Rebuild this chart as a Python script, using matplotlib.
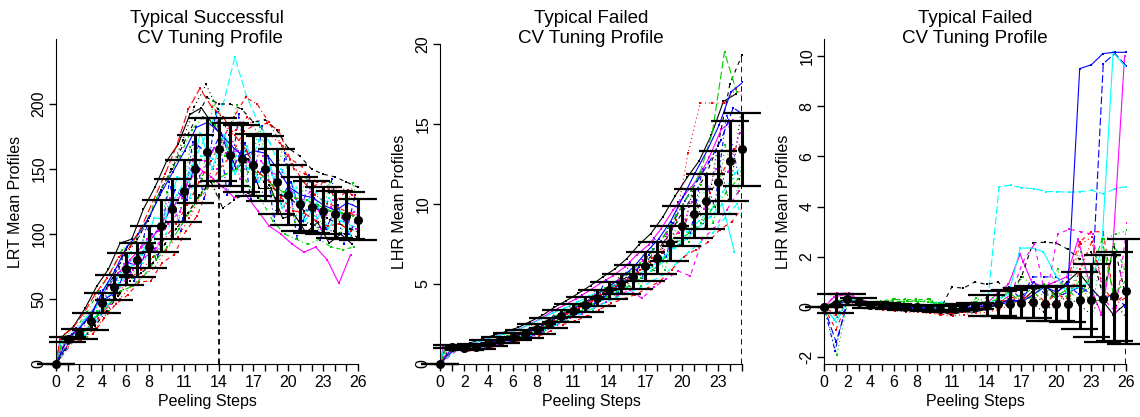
import numpy as np
import matplotlib
matplotlib.use("Agg")
import matplotlib.pyplot as plt

plt.rcParams['font.family'] = ['Liberation Sans', 'DejaVu Sans']
plt.rcParams['lines.scale_dashes'] = False

# R palette 1:6 and line types 1:5, recycled over the replicates
rep_colors = ['#000000', '#FF0000', '#00CD00', '#0000FF', '#00FFFF', '#FF00FF']
rep_ltys = ['-', (0, (3, 3)), (0, (0.8, 2.2)), (0, (0.8, 2.2, 3, 2.2)), (0, (5.5, 2.2))]
rep_shift = [-0.3, 0.1, 0.35, -0.15, 0.25, -0.4, 0.0, 0.3, -0.2, 0.15,
             -0.35, 0.4, -0.05, 0.2, -0.25, 0.05, 0.32, -0.1, 0.22, -0.38]

# --- successful LRT profile, steps 0..26 ---
lrt_steps = list(range(27))
lrt_mean = [0, 19, 23, 33, 47, 59, 73, 80, 90, 106, 119, 133, 150, 163, 165, 161, 158,
            153, 150, 140, 130, 123, 121, 118, 115, 114, 111]
lrt_sd = [0, 2, 4, 6.5, 7.5, 9.5, 12, 13, 16, 20, 23, 24, 26, 26, 24, 24, 26, 24, 25,
          25, 23, 21, 20, 18, 18, 18, 16]
lrt_reps = [
    [0, 21, 29, 43, 60, 73, 93, 96, 119, 136, 156, 169, 192, 197, 184, 173, 150, 158, 135, 135, 112, 115, 101, 109, 93, 100, 92],
    [0, 17, 18, 23, 35, 46, 53, 63, 64, 78, 84, 102, 114, 137, 151, 161, 179, 184, 185, 180, 158, 152, 137, 140, 126, 134, 124],
    [0, 21, 20, 41, 41, 71, 66, 98, 82, 132, 110, 167, 142, 202, 160, 199, 148, 182, 130, 168, 109, 144, 101, 140, 101, 139, 101],
    [0, 17, 28, 26, 56, 49, 85, 64, 106, 82, 140, 102, 171, 127, 194, 130, 192, 127, 183, 110, 162, 96, 145, 95, 142, 92, 130],
    [0, 20, 25, 36, 51, 62, 79, 86, 98, 116, 130, 146, 166, 186, 200, 236, 206, 186, 170, 150, 136, 124, 132, 118, 114, 104, 110],
    [0, 19, 22, 32, 44, 58, 70, 80, 90, 98, 112, 124, 140, 150, 144, 136, 128, 130, 118, 106, 100, 92, 86, 90, 80, 62, 84],
    [0, 20, 26, 38, 54, 68, 88, 96, 112, 134, 150, 170, 188, 205, 200, 200, 196, 186, 188, 180, 166, 160, 150, 146, 144, 140, 136],
    [0, 18, 20, 28, 40, 50, 60, 68, 74, 88, 98, 112, 130, 150, 170, 180, 190, 176, 176, 168, 150, 146, 140, 134, 136, 130, 128],
    [0, 21, 27, 40, 56, 70, 88, 94, 108, 128, 144, 160, 180, 190, 184, 170, 152, 136, 126, 110, 100, 96, 92, 96, 90, 88, 90],
    [0, 19, 24, 30, 50, 56, 78, 74, 100, 104, 134, 126, 168, 160, 178, 150, 170, 140, 160, 126, 140, 110, 128, 104, 122, 100, 118],
    [0, 18, 21, 34, 44, 62, 68, 86, 84, 112, 112, 144, 140, 178, 150, 176, 146, 168, 140, 152, 120, 132, 110, 124, 104, 118, 98],
    [0, 19, 23, 35, 46, 61, 72, 82, 89, 108, 117, 136, 148, 166, 162, 164, 155, 156, 147, 143, 127, 126, 118, 121, 112, 117, 108],
    [0, 20, 26, 37, 52, 66, 84, 94, 110, 130, 150, 172, 198, 215, 196, 176, 160, 150, 140, 128, 118, 110, 108, 104, 102, 100, 98],
    [0, 18, 21, 30, 43, 54, 66, 72, 82, 96, 108, 122, 140, 156, 172, 190, 205, 200, 186, 170, 154, 140, 130, 124, 120, 116, 112],
    [0, 17, 19, 26, 38, 46, 56, 60, 68, 80, 90, 104, 118, 132, 140, 146, 150, 150, 146, 138, 132, 128, 126, 122, 118, 116, 114],
    [0, 21, 28, 39, 57, 72, 90, 100, 114, 132, 148, 164, 182, 186, 178, 168, 160, 164, 162, 150, 136, 130, 128, 122, 118, 124, 120],
    [0, 19, 22, 34, 46, 60, 76, 78, 94, 100, 126, 128, 160, 158, 176, 160, 150, 172, 150, 130, 140, 118, 112, 128, 110, 106, 122],
    [0, 20, 25, 32, 50, 57, 77, 77, 96, 102, 128, 128, 158, 156, 150, 184, 142, 162, 160, 140, 118, 124, 132, 104, 126, 110, 104],
    [0, 18, 20, 29, 41, 52, 64, 70, 78, 92, 104, 116, 130, 140, 120, 126, 132, 128, 138, 130, 126, 118, 120, 112, 108, 104, 100],
    [0, 21, 27, 39, 54, 66, 82, 90, 106, 126, 146, 168, 196, 212, 198, 190, 176, 164, 148, 140, 128, 118, 116, 110, 106, 108, 102],
]

# --- failed LHR profile, steps 0..25 ---
lhr_steps = list(range(26))
lhr_mean = [0, 1.08, 0.98, 1.08, 1.3, 1.5, 1.7, 1.9, 2.2, 2.55, 3.0, 3.33, 3.7, 4.15, 4.6,
            5.0, 5.45, 6.1, 6.65, 7.55, 8.6, 9.4, 10.15, 11.35, 12.65, 13.4]
lhr_sd = [0, 0.08, 0.12, 0.15, 0.18, 0.2, 0.22, 0.25, 0.3, 0.32, 0.36, 0.42, 0.48, 0.5,
          0.55, 0.62, 0.75, 0.9, 1.0, 1.1, 1.25, 1.5, 1.7, 1.95, 2.5, 2.3]
lhr_reps = [
    [0, 1.2, 1.16, 1.3, 1.57, 1.8, 2.03, 2.28, 2.65, 3.03, 3.54, 3.96, 4.42, 4.9, 5.43, 5.93, 6.58, 7.45, 8.15, 9.2, 10.5, 11.65, 12.7, 14.3, 16.4, 16.85],
    [0, 0.96, 0.8, 0.86, 1.03, 1.2, 1.37, 1.53, 1.75, 2.07, 2.46, 2.7, 2.98, 3.4, 3.78, 4.07, 4.33, 4.75, 5.15, 5.9, 6.7, 7.15, 7.6, 8.4, 8.9, 9.95],
    [0, 1.18, 0.88, 1.26, 1.16, 1.74, 1.52, 2.2, 1.96, 2.93, 2.71, 3.83, 3.32, 4.75, 4.16, 5.74, 4.85, 7.18, 5.85, 8.87, 7.6, 11.2, 8.8, 13.7, 10.65, 16.2],
    [0, 1.0, 1.14, 0.96, 1.52, 1.34, 1.96, 1.7, 2.56, 2.3, 3.43, 3.0, 4.28, 3.75, 5.26, 4.5, 6.35, 5.4, 7.85, 6.67, 10.1, 8.2, 12.2, 9.8, 15.65, 11.56],
    [0, 1.06, 0.94, 1.04, 1.25, 1.44, 1.63, 1.83, 2.11, 2.45, 2.89, 3.2, 3.56, 4.0, 4.44, 4.81, 5.22, 5.83, 6.35, 7.22, 8.22, 8.95, 9.64, 10.77, 11.9, 12.7],
    [0, 1.14, 1.08, 1.2, 1.44, 1.66, 1.88, 2.1, 2.44, 2.81, 3.29, 3.67, 4.08, 4.55, 5.04, 5.5, 6.05, 6.82, 7.45, 8.43, 9.6, 10.6, 11.5, 12.9, 14.65, 15.25],
    [0, 1.1, 1.0, 1.1, 1.3, 1.5, 1.72, 1.95, 2.25, 2.6, 3.05, 3.4, 3.8, 4.25, 4.7, 5.2, 5.7, 6.4, 7.1, 8.1, 9.4, 10.6, 11.8, 13.6, 17.5, 19.3],
    [0, 1.1, 1.02, 1.12, 1.33, 1.55, 1.78, 1.98, 2.3, 2.7, 3.15, 3.5, 3.95, 4.4, 4.9, 5.35, 5.9, 6.6, 7.4, 9.0, 13.2, 16.3, 16.3, 16.3, 17.2, 16.2],
    [0, 1.02, 0.88, 0.96, 1.16, 1.34, 1.52, 1.7, 1.96, 2.29, 2.71, 3.0, 3.32, 3.75, 4.16, 4.5, 4.85, 5.38, 5.85, 6.67, 7.6, 8.2, 8.8, 9.8, 10.65, 11.55],
    [0, 1.0, 0.85, 0.92, 1.12, 1.3, 1.48, 1.65, 1.92, 2.3, 2.75, 3.1, 3.5, 4.0, 4.6, 5.2, 5.9, 6.8, 7.7, 8.8, 10.2, 11.4, 12.6, 14.0, 16.0, 15.5],
    [0, 1.16, 1.1, 1.22, 1.46, 1.68, 1.9, 2.12, 2.45, 2.8, 3.2, 3.5, 3.85, 4.25, 4.6, 4.9, 5.2, 5.6, 6.0, 6.6, 7.3, 7.8, 8.5, 9.2, 10.0, 7.0],
    [0, 1.05, 0.95, 1.05, 1.26, 1.45, 1.65, 1.84, 2.12, 2.45, 2.85, 3.15, 3.5, 3.9, 4.3, 4.6, 4.1, 4.8, 5.3, 5.8, 5.5, 7.8, 8.5, 9.6, 10.8, 11.5],
    [0, 1.16, 0.86, 1.23, 1.12, 1.7, 1.48, 2.15, 1.9, 2.87, 2.64, 3.75, 3.22, 4.65, 4.05, 5.62, 4.7, 7.0, 5.65, 8.65, 7.35, 10.9, 8.45, 13.3, 10.15, 15.7],
    [0, 1.1, 1.02, 1.12, 1.35, 1.56, 1.77, 1.98, 2.29, 2.65, 3.11, 3.46, 3.84, 4.3, 4.77, 5.19, 5.68, 6.37, 6.95, 7.88, 8.98, 9.85, 10.66, 11.94, 13.4, 14.1],
    [0, 1.08, 0.99, 1.09, 1.3, 1.5, 1.72, 1.93, 2.25, 2.6, 3.0, 3.35, 3.75, 4.2, 4.65, 5.1, 5.6, 6.3, 7.0, 8.0, 9.3, 10.5, 12.0, 14.5, 19.5, 17.0],
    [0, 1.08, 0.98, 1.1, 1.3, 1.52, 1.72, 1.94, 2.26, 2.62, 3.1, 3.48, 3.9, 4.4, 4.9, 5.45, 6.1, 7.0, 7.8, 8.9, 10.4, 11.9, 13.3, 14.9, 17.0, 17.6],
    [0, 1.07, 0.97, 1.07, 1.28, 1.47, 1.66, 1.85, 2.12, 2.45, 2.86, 3.14, 3.45, 3.8, 4.15, 4.45, 4.75, 5.2, 5.6, 6.3, 7.0, 7.6, 8.2, 9.1, 10.0, 8.0],
    [0, 1.09, 0.96, 1.11, 1.27, 1.53, 1.66, 1.96, 2.14, 2.64, 2.92, 3.45, 3.6, 4.33, 4.45, 5.25, 5.25, 6.5, 6.4, 8.1, 8.2, 10.1, 9.7, 12.2, 12.0, 14.4],
]

# --- failed LHR profile with diverging replicates, steps 0..26 ---
div_steps = list(range(27))
div_mean = [0, 0.13, 0.3, 0.22, 0.1, 0.07, 0.03, 0, 0, -0.04, -0.08, -0.04, 0, 0.03, 0.07,
            0.13, 0.13, 0.16, 0.2, 0.13, 0.13, 0.13, 0.27, 0.27, 0.33, 0.42, 0.62]
div_sd = [0, 0.37, 0.2, 0.13, 0.12, 0.1, 0.1, 0.1, 0.1, 0.1, 0.12, 0.12, 0.12, 0.12, 0.42,
          0.5, 0.55, 0.58, 0.62, 0.68, 0.7, 0.72, 1.13, 1.45, 1.74, 1.78, 2.1]
div_reps = [
    [0, 0.2, 0.3, 0.2, 0.1, 0.0, -0.1, -0.1, -0.15, -0.2, -0.15, -0.3, -0.2, -0.2, -0.1, 0.1, 0.3, 0.2, 0.6, 0.9, 0.5, 1.0, 1.4, 0.8, 0.3, -0.3, 0.1],
    [0, -0.9, 0.2, 0.2, 0.05, 0.05, 0.0, 0.0, 0.0, -0.1, -0.3, -0.25, -0.2, -0.1, 0.0, 0.3, 0.2, 0.5, 0.3, 0.0, 0.8, 1.2, 2.6, 3.0, 3.0, 0.2, 0.5],
    [0, -1.9, 0.3, 0.2, 0.1, 0.1, 0.3, 0.25, 0.2, 0.3, 0.1, 0.0, 0.0, 0.35, 0.1, 0.2, 0.5, 1.2, 0.8, 0.3, 1.5, 0.2, 2.2, 0.0, 2.7, 2.9, 3.05],
    [0, -1.75, 0.2, 0.25, 0.1, 0.05, 0.05, 0.0, -0.05, -0.1, -0.2, -0.1, -0.05, 0.0, 0.1, 0.15, 0.8, 0.3, 1.2, 1.2, 1.2, 0.9, 0.5, 0.8, 0.2, 0.6, 0.0],
    [0, -0.6, 0.3, 0.25, 0.1, 0.2, 0.1, 0.05, 0.05, 0.1, 0.2, 0.1, 0.1, 0.2, 0.1, 4.8, 4.85, 4.75, 4.72, 4.6, 4.6, 4.57, 4.6, 4.65, 4.5, 4.72, 4.8],
    [0, 0.4, 0.5, 0.35, 0.2, 0.1, 0.05, 0.0, 0.0, -0.05, 0.0, 0.05, 0.0, 0.05, 0.1, 0.5, 0.9, 2.1, 1.0, 0.8, 1.0, 1.2, 2.7, 0.9, -0.3, 2.4, 10.0],
    [0, 0.1, 0.35, 0.25, 0.1, 0.05, 0.0, -0.05, -0.05, -0.1, -0.1, 0.8, 0.75, 1.0, 0.9, 1.0, 0.5, 1.2, 2.56, 2.58, 2.55, 2.3, 1.9, 2.2, 0.5, 2.4, 0.4],
    [0, -0.4, 0.15, 0.1, 0.0, -0.1, -0.15, -0.2, -0.2, -0.25, -0.3, -0.35, -0.3, -0.25, -0.2, -0.1, 0.1, 0.3, 0.4, 0.2, 0.0, 1.0, 2.5, 2.8, 0.5, 0.3, 2.0],
    [0, 0.1, 0.2, 0.25, 0.2, 0.25, 0.3, 0.3, 0.3, 0.3, 0.1, 0.05, 0.1, 0.2, 0.35, 0.4, 0.2, 0.5, 0.7, 0.1, 0.6, 0.4, 1.0, 0.2, 0.3, 2.5, 1.5],
    [0, -1.4, 0.2, 0.15, 0.05, 0.1, 0.05, 0.0, 0.0, -0.05, -0.1, -0.15, -0.1, 0.0, 0.05, 0.1, 0.2, 0.3, 1.0, 0.5, 0.4, 0.6, 0.8, 0.5, 9.7, 10.1, 9.6],
    [0, -0.5, 0.1, 0.1, 0.05, 0.15, 0.1, 0.1, 0.0, 0.0, -0.05, -0.1, 0.0, 0.05, 0.1, 0.3, 0.5, 2.35, 2.35, 2.2, 1.3, 0.6, 0.8, 1.0, 2.2, 10.15, 9.6],
    [0, 0.55, 0.55, 0.3, 0.1, 0.05, 0.0, -0.05, 0.0, 0.0, 0.1, 0.05, 0.0, 0.05, 0.1, 0.2, 0.5, 1.8, 2.5, 0.3, 2.9, 3.1, 3.0, 2.9, 0.3, -0.2, 3.35],
    [0, 0.15, 0.25, 0.15, 0.05, 0.0, 0.0, -0.05, -0.1, -0.1, -0.2, -0.2, -0.15, -0.1, 0.0, 0.05, 0.1, 0.3, 0.1, -0.2, 0.2, 0.4, 0.1, -0.3, 0.5, 0.2, -0.4],
    [0, -0.3, 0.2, 0.15, 0.05, 0.0, -0.05, -0.1, -0.15, -0.2, -0.25, -0.2, -0.15, -0.1, 0.05, 0.2, 0.4, 0.3, 0.6, 0.2, 0.5, 0.3, 1.5, 2.6, 0.8, 0.1, 0.4],
    [0, 0.2, 0.35, 0.3, 0.2, 0.2, 0.25, 0.2, 0.25, 0.2, 0.15, 0.1, 0.1, 0.15, 0.2, 0.3, 0.6, 0.2, 0.4, 0.9, 0.4, 0.7, 0.3, 1.2, 2.7, 0.5, 1.0],
    [0, 0.1, 0.25, 0.2, 0.1, 0.05, 0.0, 0.0, -0.05, -0.05, -0.1, -0.1, -0.05, 0.0, 0.05, 0.1, 0.3, 0.2, 0.5, 0.8, 0.6, 0.9, 9.5, 9.65, 10.1, 10.15, 10.15],
]

lrt_xlabels = [0, 2, 4, 6, 8, 11, 14, 17, 20, 23, 26]
lhr_xlabels = [0, 2, 4, 6, 8, 11, 14, 17, 20, 23]


def draw_panel(ax, steps, reps, mean, sd, opt, dash_top, ylim, yticks, xlabels, ylabel, title,
               spread=1.0):
    steps = np.asarray(steps, dtype=float)
    mean = np.asarray(mean, dtype=float)
    sd = np.asarray(sd, dtype=float)

    for i, r in enumerate(reps):
        x = steps + spread * rep_shift[i % len(rep_shift)]
        x[0] = steps[0]
        ax.plot(x, r, color=rep_colors[i % 6], linestyle=rep_ltys[i % 5], lw=0.8,
                marker='s', ms=1.6, mew=0, zorder=2)

    ax.plot([opt, opt], [ylim[0], dash_top], color='black', ls=(0, (4, 3)), lw=1.3, zorder=3)

    # mean +/- sd bars with wide caps
    lo, hi = mean - sd, mean + sd
    ax.vlines(steps, lo, hi, color='black', lw=2.2, zorder=4, clip_on=False)
    ax.hlines(lo, steps - 1.6, steps + 1.6, color='black', lw=1.6, zorder=4, clip_on=False)
    ax.hlines(hi, steps - 1.6, steps + 1.6, color='black', lw=1.6, zorder=4, clip_on=False)
    ax.plot(steps, mean, 'o', color='black', ms=5.5, zorder=5, clip_on=False)

    xmax = steps[-1]
    ax.set_xlim(0, xmax)
    ax.set_ylim(*ylim)
    ax.set_xticks(steps)
    ax.set_xticklabels([str(int(s)) if int(s) in xlabels else '' for s in steps])
    ax.set_yticks(yticks)
    ax.set_yticklabels([str(t) for t in yticks], rotation=90, va='center')
    ax.tick_params(direction='out', length=5, width=1, labelsize=11.5, pad=3)
    ax.tick_params(axis='y', pad=2)
    for side in ('top', 'right'):
        ax.spines[side].set_visible(False)
    ax.spines['bottom'].set_bounds(0, xmax)
    ax.set_xlabel('Peeling Steps', fontsize=11.5, labelpad=3)
    ax.set_ylabel(ylabel, fontsize=11.5, labelpad=6)
    ax.text(0.5, 1.0 - 8 / 325, title, transform=ax.transAxes, ha='center', va='bottom',
            fontsize=13.5, linespacing=1.2, multialignment='center')


fig = plt.figure(figsize=(11.4, 4.17), dpi=100)
ax1 = fig.add_axes([0.0491, 0.1271, 0.2649, 0.7794])
ax2 = fig.add_axes([0.3860, 0.1271, 0.2649, 0.7794])
ax3 = fig.add_axes([0.7228, 0.1271, 0.2649, 0.7794])

draw_panel(ax1, lrt_steps, lrt_reps, lrt_mean, lrt_sd, 14, 175, (0, 250),
           [0, 50, 100, 150, 200], lrt_xlabels, 'LRT Mean Profiles',
           'Typical Successful\n CV Tuning Profile', spread=1.6)
draw_panel(ax2, lhr_steps, lhr_reps, lhr_mean, lhr_sd, 25, 19.4, (0, 20.3),
           [0, 5, 10, 15, 20], lhr_xlabels, 'LHR Mean Profiles',
           'Typical Failed\nCV Tuning Profile', spread=1.8)
ax2.spines['left'].set_bounds(0, 20)
draw_panel(ax3, div_steps, div_reps, div_mean, div_sd, 26, 0.6, (-2.27, 10.68),
           [-2, 0, 2, 4, 6, 8, 10], lrt_xlabels, 'LHR Mean Profiles',
           'Typical Failed\nCV Tuning Profile', spread=0.3)

fig.savefig('out.png', dpi=100)
